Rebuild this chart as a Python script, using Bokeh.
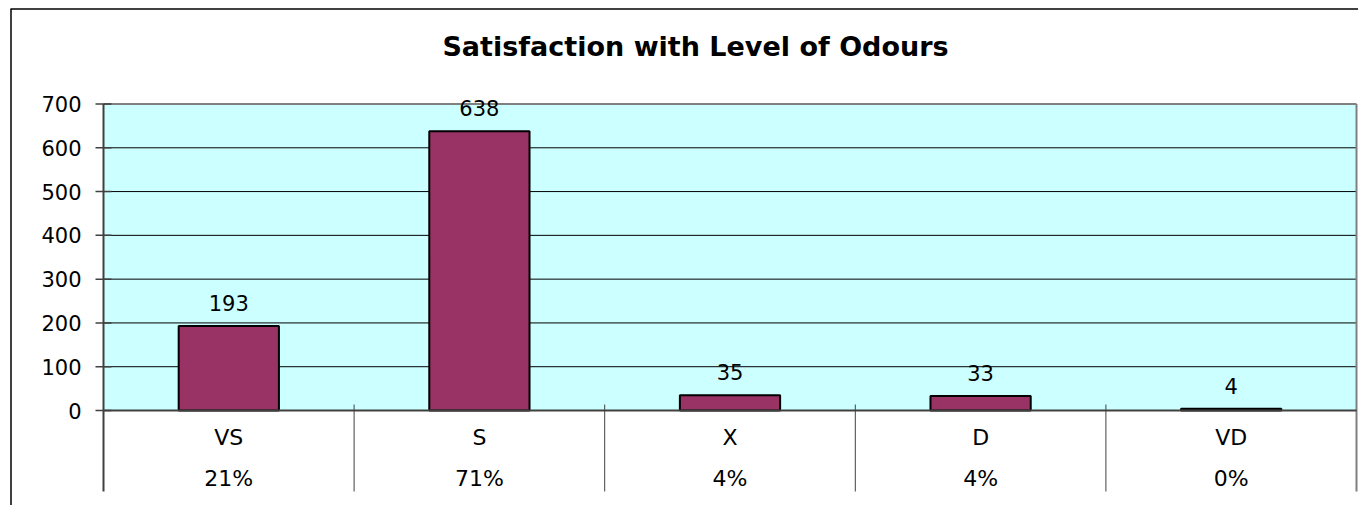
from bokeh.plotting import figure
from bokeh.models import Range1d, ColumnDataSource
from bokeh.core.properties import value
from bokeh.embed import file_html
from bokeh.resources import INLINE

# ---- data ----
categories = ["VS", "S", "X", "D", "VD"]
counts = [193, 638, 35, 33, 4]
percents = ["21%", "71%", "4%", "4%", "0%"]
y_ticks = [0, 100, 200, 300, 400, 500, 600, 700]
title_text = "Satisfaction with Level of Odours"

# ---- geometry (pixel scale of the plot area) ----
PXX = 250.6      # pixels per category
PXY = 0.43786    # pixels per count unit
W, H = 1358, 505
FONT = "DejaVu Sans"
TSHIFT = 7       # text vertical correction (px)

def ux(px):
    return px / PXX

def uy(px):
    return px / PXY

x0 = -ux(103)
y1 = uy(410)
p = figure(width=W, height=H, output_backend="svg", toolbar_location=None,
           x_range=Range1d(x0, x0 + ux(W)), y_range=Range1d(y1 - uy(H), y1),
           min_border=0, outline_line_color=None)
p.axis.visible = False
p.grid.visible = False
p.background_fill_color = "white"
p.border_fill_color = "white"

n = len(categories)
ymax = y_ticks[-1]
centers = [i + 0.5 for i in range(n)]
bottom_y = -uy(81)

# plot area background
p.quad(left=[0], right=[n], bottom=[0], top=[ymax], fill_color="#CCFFFF", line_color=None)

# gridlines
grid_vals = [v for v in y_ticks if 0 < v < ymax]
p.segment(x0=[0] * len(grid_vals), x1=[n] * len(grid_vals), y0=grid_vals, y1=grid_vals,
          line_color="black", line_width=1)
p.segment(x0=[0], x1=[n], y0=[ymax], y1=[ymax], line_color="#808080", line_width=2)

# bars
src = ColumnDataSource(dict(x=centers, top=counts, cat=categories,
                            lab=[str(c) for c in counts],
                            ly=[c + uy(16 + TSHIFT) for c in counts], pct=percents,
                            cy=[-uy(34 - TSHIFT)] * n, py=[-uy(75 - TSHIFT)] * n))
p.vbar(x="x", top="top", bottom=0, width=0.4, source=src,
       fill_color="#993366", line_color="black", line_width=2)

# right border of plot area + dividers
p.segment(x0=[n], x1=[n], y0=[ymax], y1=[bottom_y], line_color="#808080", line_width=2)
p.segment(x0=[0], x1=[0], y0=[ymax], y1=[bottom_y], line_color="#404040", line_width=2)
inner = list(range(1, n))
p.segment(x0=inner, x1=inner, y0=[uy(6)] * len(inner), y1=[bottom_y] * len(inner),
          line_color="#404040", line_width=1)

# baseline
p.segment(x0=[0], x1=[n], y0=[0], y1=[0], line_color="#404040", line_width=2)

# y ticks
p.segment(x0=[-ux(8)] * len(y_ticks), x1=[ux(8)] * len(y_ticks), y0=y_ticks, y1=y_ticks,
          line_color="#404040", line_width=1.5)
p.text(x=[-ux(22)] * len(y_ticks), y=[v - uy(7 - TSHIFT) for v in y_ticks],
       text=[str(v) for v in y_ticks], text_align="right", text_baseline="alphabetic",
       text_font=value(FONT), text_font_size="21px", text_color="black")

# data labels
p.text(x="x", y="ly", text="lab", source=src, text_align="center",
       text_baseline="alphabetic", text_font=value(FONT), text_font_size="21px",
       text_color="black")

# category and percentage rows
p.text(x="x", y="cy", text="cat", source=src, text_align="center",
       text_baseline="alphabetic", text_font=value(FONT), text_font_size="22px",
       text_color="black")
p.text(x="x", y="py", text="pct", source=src, text_align="center",
       text_baseline="alphabetic", text_font=value(FONT), text_font_size="22px",
       text_color="black")

# title
p.text(x=[ux(592)], y=[uy(357 + TSHIFT)], text=[title_text], text_align="center",
       text_baseline="alphabetic", text_font=value(FONT), text_font_style="bold",
       text_font_size="27px", text_color="black")

# outer chart border (left and top visible)
p.segment(x0=[-ux(92.5)], x1=[-ux(92.5)], y0=[uy(401.5)], y1=[y1 - uy(H)],
          line_color="black", line_width=1.5)
p.segment(x0=[-ux(93)], x1=[x0 + ux(W)], y0=[uy(401.5)], y1=[uy(401.5)],
          line_color="black", line_width=1.5)

open("out.html", "w").write(file_html(p, INLINE))
